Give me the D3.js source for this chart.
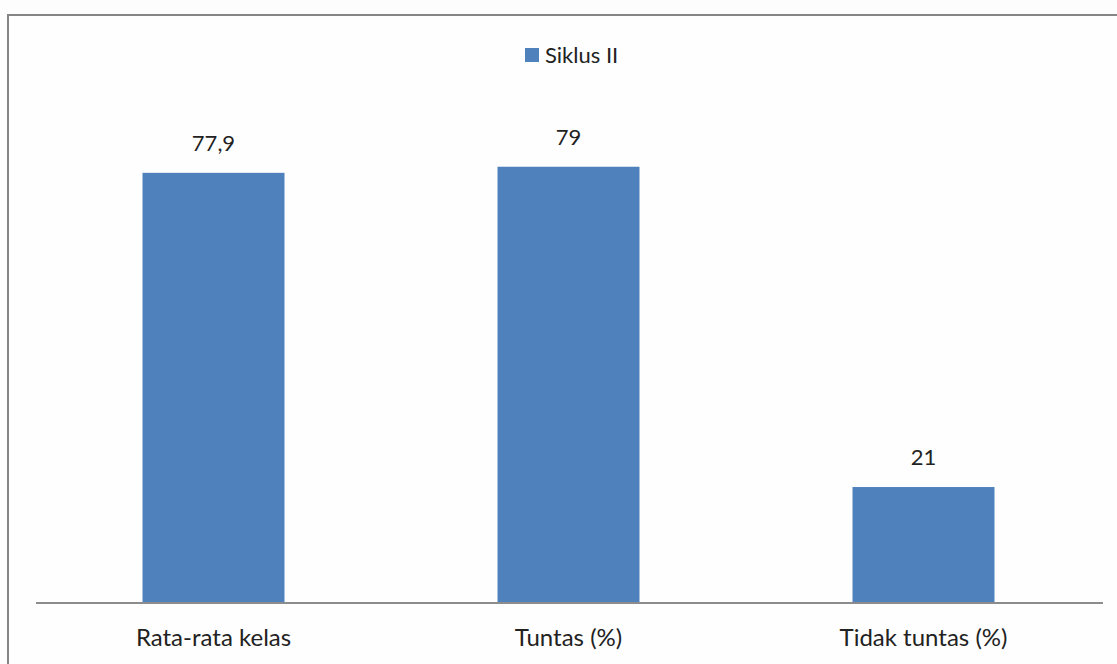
<!DOCTYPE html>
<html>
<head>
<meta charset="utf-8">
<script src="https://cdn.jsdelivr.net/npm/d3@7"></script>
<style>
html,body{margin:0;padding:0;background:#fff;overflow:hidden;}
svg{display:block;}
text{font-family:"Lato","Open Sans",sans-serif;fill:#222;}
</style>
</head>
<body>
<svg id="chart" width="1117" height="664"></svg>
<script>
const categories = ["Rata-rata kelas", "Tuntas (%)", "Tidak tuntas (%)"];
const values = [77.9, 79, 21];
const valueLabels = ["77,9", "79", "21"];
const seriesName = "Siklus II";

const svg = d3.select("#chart");
const W = 1117, H = 664;

svg.append("rect").attr("x",0).attr("y",0).attr("width",W).attr("height",H).attr("fill","#fdfdfd");
// outer border (extends beyond the viewport on right and bottom)
svg.append("rect").attr("x",8).attr("y",15).attr("width",W+20).attr("height",H+20)
  .attr("fill","#fefefe").attr("stroke","#858585").attr("stroke-width",2);

const x = d3.scaleBand().domain(categories).range([36, 1101]).paddingInner(0.6).paddingOuter(0.3);
const y = d3.scaleLinear().domain([0, 90]).range([603, 106]);

svg.selectAll("rect.bar").data(values).enter().append("rect")
  .attr("class","bar")
  .attr("x",(d,i)=>x(categories[i]))
  .attr("y",d=>y(d))
  .attr("width",x.bandwidth())
  .attr("height",d=>y(0)-y(d))
  .attr("fill","#4F81BD");

// axis
const axis = d3.axisBottom(x).tickSize(0).tickPadding(0);
const g = svg.append("g").attr("transform",`translate(0,${y(0)})`).call(axis);
g.select(".domain").attr("stroke","#8c8c8c").attr("stroke-width",2).attr("d","M36,0H1103");
g.selectAll(".tick text").attr("dy",null).attr("y",43).style("font-size","24px")
  .style("font-family",'"Lato","Open Sans",sans-serif').attr("fill","#222");

// value labels
svg.selectAll("text.val").data(values).enter().append("text")
  .attr("class","val")
  .attr("x",(d,i)=>x(categories[i])+x.bandwidth()/2)
  .attr("y",d=>y(d)-22)
  .attr("text-anchor","middle")
  .style("font-size","22px")
  .text((d,i)=>valueLabels[i]);

// legend
const lg = svg.append("g");
lg.append("rect").attr("x",525).attr("y",48).attr("width",14).attr("height",14).attr("fill","#4F81BD");
lg.append("text").attr("x",545).attr("y",63).style("font-size","22px").text(seriesName);
</script>
</body>
</html>
